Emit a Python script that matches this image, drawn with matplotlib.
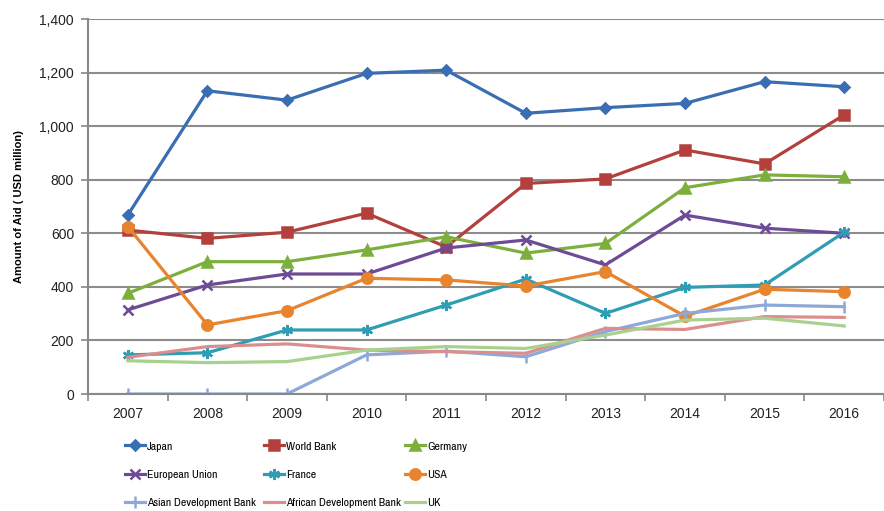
import matplotlib
matplotlib.use("Agg")
import matplotlib.pyplot as plt
from matplotlib import font_manager

plt.rcParams['font.family'] = ['Liberation Sans', 'DejaVu Sans']

years = ['2007', '2008', '2009', '2010', '2011', '2012', '2013', '2014', '2015', '2016']

japan = [668, 1132, 1097, 1197, 1209, 1048, 1069, 1085, 1166, 1147]
world_bank = [612, 581, 604, 675, 549, 786, 803, 911, 859, 1042]
germany = [376, 494, 494, 538, 587, 526, 562, 770, 818, 811]
eu = [314, 407, 448, 448, 545, 575, 482, 668, 619, 600]
france = [146, 154, 239, 239, 332, 429, 301, 398, 407, 604]
usa = [625, 258, 311, 432, 426, 403, 457, 290, 391, 382]
adb = [0, 0, 0, 146, 160, 139, 233, 301, 332, 326]
afdb = [137, 177, 187, 164, 158, 152, 245, 241, 289, 286]
uk = [124, 117, 121, 164, 177, 170, 220, 276, 283, 254]

series = [
    ('Japan', japan, '#3A6EB2', 'D', 5),
    ('World Bank', world_bank, '#B3403C', 's', 6.5),
    ('Germany', germany, '#7DAF3C', '^', 7),
    ('European Union', eu, '#6E4B96', 'x', 6.5),
    ('France', france, '#2F9DB3', (6, 2, 0), 8),
    ('USA', usa, '#E8832E', 'o', 7.5),
    ('Asian Development Bank', adb, '#8EA8DA', '|', 8),
    ('African Development Bank', afdb, '#DB8E8E', None, 0),
    ('UK', uk, '#A9D18E', None, 0),
]

# pick a narrow sans for the legend, like the Arial Narrow of the original
installed = set(f.name for f in font_manager.fontManager.ttflist)
legend_prop = {'family': 'DejaVu Sans', 'stretch': 'condensed', 'size': 8}
for cand in ['Liberation Sans Narrow', 'Arial Narrow', 'Pragati Narrow', 'PT Sans Narrow',
             'Archivo Narrow', 'Roboto Condensed']:
    if cand in installed:
        legend_prop = {'family': cand, 'size': 9.2}
        break

fig = plt.figure(figsize=(8.84, 5.11), dpi=100)
ax = fig.add_axes([88 / 884, 1 - 394 / 511, 1 - 88 / 884, (394 - 19) / 511])

x = list(range(len(years)))
handles = []
for name, vals, color, marker, ms in series:
    mk = dict(marker=marker, markersize=ms, markeredgewidth=1.8) if marker else {}
    h, = ax.plot(x, vals, color=color, linewidth=2.3, label=name, **mk)
    handles.append(h)

ax.set_ylim(0, 1400)
ax.set_xlim(-0.5, 9.4)
ax.set_yticks(range(0, 1401, 200))
ax.set_yticklabels(['{:,}'.format(v) for v in range(0, 1401, 200)], fontsize=10, color='#222222')
ax.set_xticks(x)
ax.set_xticklabels(years, fontsize=10, color='#222222')
ax.set_xticks([i + 0.5 for i in range(-1, 10)], minor=True)
ax.tick_params(axis='x', which='major', length=0, pad=9)
ax.tick_params(axis='x', which='minor', length=5, color='#888888', width=1.2)
ax.tick_params(axis='y', length=5, color='#888888', width=1.2, pad=5)
ax.yaxis.grid(True, color='#8c8c8c', linewidth=1.5)
ax.set_axisbelow(True)
for s in ['top', 'right']:
    ax.spines[s].set_visible(False)
for s in ['left', 'bottom']:
    ax.spines[s].set_color('#888888')
    ax.spines[s].set_linewidth(1.5)

ax.set_ylabel('Amount of Aid ( USD million)', fontsize=8, fontweight='bold')
ax.yaxis.set_label_coords(-0.08, 0.5)

# three legend columns, one legend each, read row by row
col_x = [125, 264, 405]
for c in range(3):
    idx = [c, c + 3, c + 6]
    fig.legend([handles[i] for i in idx], [series[i][0] for i in idx],
               loc='upper left', bbox_to_anchor=(col_x[c] / 884, 1 - 441 / 511),
               frameon=False, prop=legend_prop, borderpad=0, borderaxespad=0,
               handlelength=1.6, handletextpad=0.15, labelspacing=1.35)

fig.savefig('out.png', dpi=100)
